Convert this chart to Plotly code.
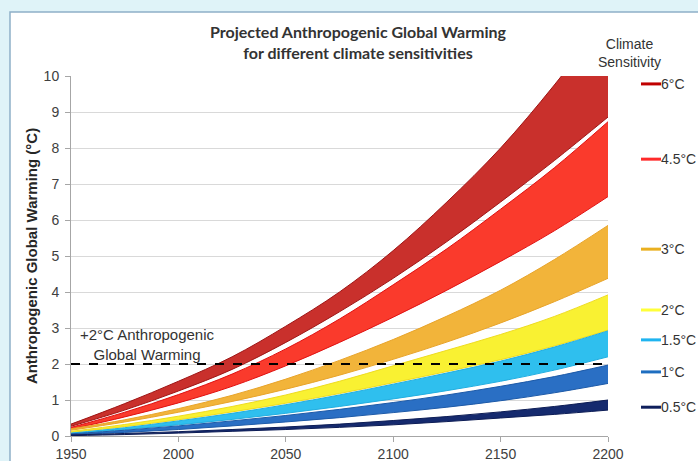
import plotly.graph_objects as go

# Years at which each warming envelope is sampled
years = [1950, 1975, 2000, 2025, 2050, 2075, 2100, 2125, 2150, 2175, 2200]

# Climate sensitivity scenarios (legend labels)
sensitivities = ["6°C", "4.5°C", "3°C", "2°C", "1.5°C", "1°C", "0.5°C"]

# Upper / lower edge of each envelope (°C of warming)
upper_6 = [0.33, 0.90, 1.52, 2.20, 3.05, 4.00, 5.15, 6.50, 8.00, 9.75, 11.70]
lower_6 = [0.27, 0.72, 1.25, 1.85, 2.60, 3.45, 4.38, 5.40, 6.50, 7.65, 8.86]
upper_45 = [0.24, 0.66, 1.15, 1.72, 2.42, 3.25, 4.20, 5.20, 6.30, 7.45, 8.73]
lower_45 = [0.19, 0.53, 0.92, 1.38, 1.95, 2.60, 3.30, 4.05, 4.85, 5.70, 6.65]
upper_3 = [0.20, 0.45, 0.76, 1.13, 1.58, 2.10, 2.68, 3.33, 4.05, 4.90, 5.85]
lower_3 = [0.16, 0.39, 0.66, 0.96, 1.30, 1.69, 2.13, 2.61, 3.14, 3.73, 4.38]
upper_2 = [0.13, 0.32, 0.55, 0.82, 1.14, 1.52, 1.95, 2.38, 2.82, 3.32, 3.92]
lower_2 = [0.10, 0.26, 0.45, 0.67, 0.91, 1.18, 1.48, 1.79, 2.12, 2.50, 2.94]
upper_15 = [0.08, 0.23, 0.42, 0.63, 0.87, 1.14, 1.44, 1.75, 2.08, 2.47, 2.92]
lower_15 = [0.07, 0.18, 0.31, 0.46, 0.63, 0.82, 1.03, 1.26, 1.52, 1.83, 2.20]
upper_1 = [0.06, 0.16, 0.28, 0.42, 0.57, 0.74, 0.93, 1.14, 1.38, 1.65, 1.97]
lower_1 = [0.04, 0.10, 0.18, 0.28, 0.39, 0.51, 0.65, 0.80, 0.98, 1.20, 1.46]
upper_05 = [0.03, 0.07, 0.12, 0.18, 0.25, 0.33, 0.43, 0.54, 0.67, 0.82, 1.00]
lower_05 = [0.01, 0.04, 0.08, 0.13, 0.18, 0.24, 0.31, 0.40, 0.50, 0.60, 0.72]

# Vertical position of each legend entry (°C on the y axis)
legend_y = [9.78, 7.69, 5.19, 3.50, 2.67, 1.78, 0.80]

x_ticks = [1950, 2000, 2050, 2100, 2150, 2200]
y_ticks = list(range(0, 11))
threshold = 2

uppers = [upper_6, upper_45, upper_3, upper_2, upper_15, upper_1, upper_05]
lowers = [lower_6, lower_45, lower_3, lower_2, lower_15, lower_1, lower_05]
fills = ["#c9302c", "#fa3a2c", "#f2b43a", "#f9f132", "#2fbfee", "#2a6fc4", "#152a6e"]
edges = ["#9e1414", "#e01010", "#e8a42a", "#eedc20", "#22aee0", "#1d5aa8", "#0c1c55"]
legend_cols = ["#c00000", "#ff2a2a", "#eab020", "#ffff3a", "#1fb4f0", "#1e6ec0", "#0f1f5c"]

FONT = "Liberation Sans, Arial"

fig = go.Figure()

for up, lo, fc, ec in zip(uppers, lowers, fills, edges):
    fig.add_trace(go.Scatter(x=years, y=lo, mode="lines",
                             line=dict(color=ec, width=1, shape="spline"),
                             showlegend=False, hoverinfo="skip"))
    fig.add_trace(go.Scatter(x=years, y=up, mode="lines", fill="tonexty",
                             fillcolor=fc,
                             line=dict(color=ec, width=1, shape="spline"),
                             showlegend=False, hoverinfo="skip"))

# +2 °C reference line
fig.add_trace(go.Scatter(x=[years[0], years[-1]], y=[threshold, threshold],
                         mode="lines", line=dict(color="black", width=2, dash="dash"),
                         showlegend=False, hoverinfo="skip"))

L, R, T, B = 71, 90, 76, 25
PW, PH = 698 - L - R, 461 - T - B


def px_x(p):
    return (p - L) / PW


def px_y(p):
    return (461 - B - p) / PH


shapes = [
    # white chart panel on the light cyan page
    dict(type="rect", xref="paper", yref="paper", x0=px_x(10), x1=px_x(720),
         y0=px_y(480), y1=px_y(12), fillcolor="white",
         line=dict(color="#8fb0c8", width=1.5), layer="below"),
]
annotations = [
    dict(text="+2°C Anthropogenic<br>Global Warming", x=1985.4, y=2.53,
         xref="x", yref="y", showarrow=False,
         font=dict(family=FONT, size=15, color="#333333")),
    dict(text="Climate<br>Sensitivity", x=px_x(663), y=px_y(53),
         xref="paper", yref="paper", showarrow=False, yanchor="middle",
         font=dict(family=FONT, size=14, color="#333333")),
]

for lab, ly, lc in zip(sensitivities, legend_y, legend_cols):
    shapes.append(dict(type="line", xref="paper", yref="y",
                       x0=px_x(641), x1=px_x(661), y0=ly, y1=ly,
                       line=dict(color=lc, width=3)))
    annotations.append(dict(text=lab, xref="paper", yref="y",
                            x=px_x(659), y=ly, xanchor="left", yanchor="middle",
                            showarrow=False,
                            font=dict(family=FONT, size=14, color="#333333")))

fig.update_layout(
    width=698, height=461,
    margin=dict(l=L, r=R, t=T, b=B, autoexpand=False),
    paper_bgcolor="#dff3f8",
    plot_bgcolor="rgba(0,0,0,0)",
    title=dict(text="<b>Projected Anthropogenic Global Warming<br>for different climate sensitivities</b>",
               x=358 / 698, xanchor="center", y=1 - 38 / 461, yanchor="middle",
               font=dict(family="Lato, Open Sans", size=16, color="#333333")),
    shapes=shapes,
    annotations=annotations,
    showlegend=False,
)

fig.update_xaxes(range=[1950, 2200], tickvals=x_ticks, showgrid=False,
                 showline=True, linecolor="#a6a6a6", linewidth=1,
                 ticks="outside", ticklen=5, tickcolor="#a6a6a6",
                 tickfont=dict(family=FONT, size=14, color="#404040"),
                 zeroline=False, automargin=False)
fig.update_yaxes(range=[0, 10], tickvals=y_ticks, showgrid=True,
                 gridcolor="#d9d9d9", gridwidth=1,
                 showline=True, linecolor="#a6a6a6", linewidth=1,
                 ticks="outside", ticklen=5, tickcolor="#a6a6a6",
                 ticklabelstandoff=3,
                 tickfont=dict(family=FONT, size=14, color="#404040"),
                 title=dict(text="<b>Anthropogenic Global Warming (°C)</b>",
                            font=dict(family=FONT, size=15, color="#262626"),
                            standoff=2),
                 zeroline=False, automargin=False)

fig.write_html("out.html")
